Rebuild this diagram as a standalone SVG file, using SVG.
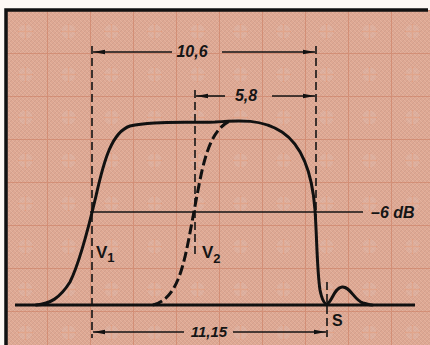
<svg xmlns="http://www.w3.org/2000/svg" width="430" height="345" viewBox="0 0 430 345">
<defs>
<pattern id="fine" width="4" height="4" patternUnits="userSpaceOnUse">
<path d="M0 4 L4 0" stroke="#bf9282" stroke-width="0.8" opacity="0.45"/>
<path d="M0 0 L4 4" stroke="#ecc2ae" stroke-width="0.8" opacity="0.5"/>
</pattern>
<pattern id="grid" x="4" y="10" width="43" height="43" patternUnits="userSpaceOnUse">
<path d="M0 0.5 H43 M0.5 0 V43" stroke="#c9765a" stroke-width="1" opacity="0.5"/>
<path d="M21.5 14 V29 M14 21.5 H29" stroke="#e8875a" stroke-width="1.5" opacity="0.5"/>
<circle cx="21.5" cy="21.5" r="7" fill="#dcbdb2" opacity="0.35"/>
</pattern>
<marker id="arr" viewBox="0 0 12 6" refX="12" refY="3" markerWidth="12" markerHeight="6" markerUnits="userSpaceOnUse" orient="auto-start-reverse">
<path d="M0 0.8 L12 3 L0 5.2 Z" fill="#111"/>
</marker>
<style>
.ext{stroke:#151515;stroke-width:1.6;stroke-dasharray:8 4;fill:none}
.dim{stroke:#151515;stroke-width:1.6;fill:none}
.curve{stroke:#111;stroke-width:3;fill:none;stroke-linecap:round;stroke-linejoin:round}
.curve2{stroke:#111;stroke-width:3;fill:none;stroke-dasharray:10 4}
.t{font-family:"Liberation Sans",Arial,sans-serif;font-weight:bold;fill:#151515}
.ti{font-style:italic}
</style>
</defs>
<rect width="430" height="345" fill="#fdf8f4"/>
<rect x="5" y="10" width="425" height="335" fill="#dea893"/>
<rect x="5" y="10" width="425" height="335" fill="url(#fine)"/>
<rect x="5" y="10" width="425" height="335" fill="url(#grid)"/>
<g id="frame">
<path d="M6 345 V10 H428" stroke="#111" stroke-width="3.5" fill="none"/>
</g>
<g id="connectors">
<line class="ext" x1="92" y1="46" x2="92" y2="338"/>
<line class="ext" x1="195" y1="90" x2="195" y2="258"/>
<line class="ext" x1="316" y1="46" x2="316" y2="222"/>
<line class="ext" x1="327" y1="282" x2="327" y2="337"/>
<line class="dim" x1="172" y1="52" x2="93" y2="52" marker-end="url(#arr)"/>
<line class="dim" x1="222" y1="52" x2="315" y2="52" marker-end="url(#arr)"/>
<line class="dim" x1="225" y1="96" x2="196" y2="96" marker-end="url(#arr)"/>
<line class="dim" x1="272" y1="96" x2="315" y2="96" marker-end="url(#arr)"/>
<line class="dim" x1="184" y1="332" x2="93" y2="332" marker-end="url(#arr)"/>
<line class="dim" x1="233" y1="332" x2="326" y2="332" marker-end="url(#arr)"/>
<line x1="90" y1="212" x2="363" y2="212" stroke="#151515" stroke-width="1.6"/>
<line x1="15" y1="305" x2="415" y2="305" stroke="#111" stroke-width="3"/>
</g>
<g id="curve-main">
<path class="curve" d="M36 305 C50 304 60 298 70 282 C80 262 88 230 96 196 C104 160 112 132 130 126 C150 121 180 123 215 122 C240 120 262 119 282 132 C300 144 312 170 315 210 C317 240 317 270 320 290 C322 300 324 304 327 304 C332 302 334 288 342 287 C350 286 354 300 363 303 C367 304 370 305 372 305"/>
</g>
<g id="curve-v2">
<path class="curve2" d="M153 305 C165 302 175 292 182 268 C188 248 192 220 200 180 C206 150 214 128 230 121"/>
</g>
<g id="labels">
<text class="t ti" x="192" y="57" font-size="16" text-anchor="middle">10,6</text>
<text class="t ti" x="246" y="101" font-size="16" text-anchor="middle">5,8</text>
<text class="t ti" x="209" y="337" font-size="15" text-anchor="middle">11,15</text>
<text class="t ti" x="371" y="218" font-size="16">–6 dB</text>
<text class="t" x="96" y="258" font-size="17">V<tspan font-size="13" dy="4">1</tspan></text>
<text class="t" x="202" y="258" font-size="17">V<tspan font-size="13" dy="5">2</tspan></text>
<text class="t" x="332" y="326" font-size="16">S</text>
</g>
</svg>
